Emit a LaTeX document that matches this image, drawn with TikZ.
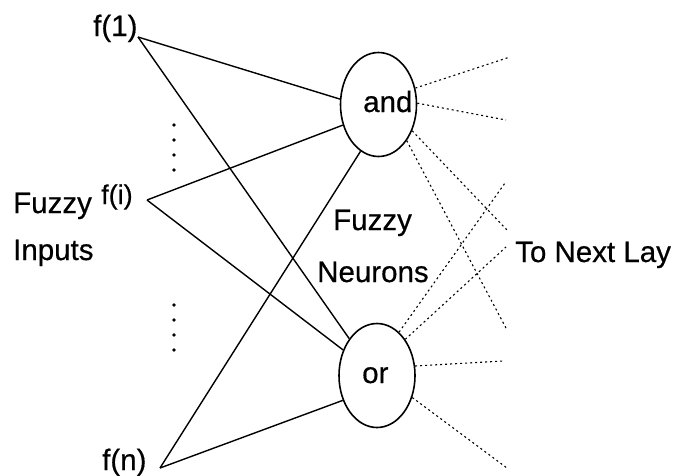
\documentclass[tikz,border=0pt]{standalone}
\usepackage{fontspec}
\setmainfont{Liberation Sans}[FakeBold=0.5]
\usetikzlibrary{shapes.geometric}
\begin{document}
\begin{tikzpicture}[x=1pt,y=-1pt,
  lbl/.style={inner sep=0pt, anchor=base west, font=\fontsize{29.5}{34}\selectfont},
  smalllbl/.style={inner sep=0pt, anchor=base west, font=\fontsize{27}{30}\selectfont},
  neuron/.style={draw, ellipse, line width=1.6pt, minimum width=76pt, minimum height=104pt, inner sep=0pt},
  wire/.style={line width=1.4pt},
  outw/.style={line width=1.1pt, dash pattern=on 2pt off 3pt},
  dotm/.style={circle, fill, inner sep=0pt, minimum size=3.6pt}]
\useasboundingbox[fill=white] (0,0) rectangle (693,475);

% neurons
\node[neuron] (and) at (378.5,104.5) {};
\node[neuron] (or) at (377,375.5) {};
\node[lbl] (andt) at (363,112) {and};
\node[lbl] (ort) at (362,383) {or};

% input labels
\node[lbl] (f1) at (93,36) {f(1)};
\node[smalllbl] (fi) at (101,204) {f(i)};
\node[lbl] (fn) at (102,470) {f(n)};
\coordinate (v1) at (138,37);
\coordinate (vi) at (147,200);
\coordinate (vn) at (160,468);

\node[lbl] (fz1) at (13,213) {Fuzzy};
\node[lbl] (inp) at (13,260) {Inputs};
\node[lbl] (fz2) at (333,230) {Fuzzy};
\node[lbl] (neu) at (317,282) {Neurons};
\node[lbl] (nxt) at (515,262) {To Next Lay};

% dots
\foreach \y [count=\k] in {125,140,155,170} \node[dotm] (du\k) at (174,\y) {};
\foreach \y [count=\k] in {305,320,335,350} \node[dotm] (dl\k) at (174,\y) {};

% input wires
\draw[wire] (v1) -- (and.172);
\draw[wire] (v1) -- (or.127);
\draw[wire] (vi) -- (and.210);
\draw[wire] (vi) -- (or.143);
\draw[wire] (vn) -- (and.249);
\draw[wire] (vn) -- (or.216);

% outputs
\coordinate (a1) at (510,57);
\coordinate (a2) at (506,120);
\coordinate (a3) at (507,230);
\coordinate (a4) at (507,330);
\coordinate (o1) at (505,183);
\coordinate (o2) at (506,247);
\coordinate (o3) at (503,361);
\coordinate (o4) at (507,468);
\draw[outw] (and.24) -- (a1);
\draw[outw] (and.2) -- (a2);
\draw[outw] (and.322) -- (a3);
\draw[outw] (and.308) -- (a4);
\draw[outw] (or.63) -- (o1);
\draw[outw] (or.52) -- (o2);
\draw[outw] (or.14) -- (o3);
\draw[outw] (or.328) -- (o4);
\end{tikzpicture}
\end{document}
